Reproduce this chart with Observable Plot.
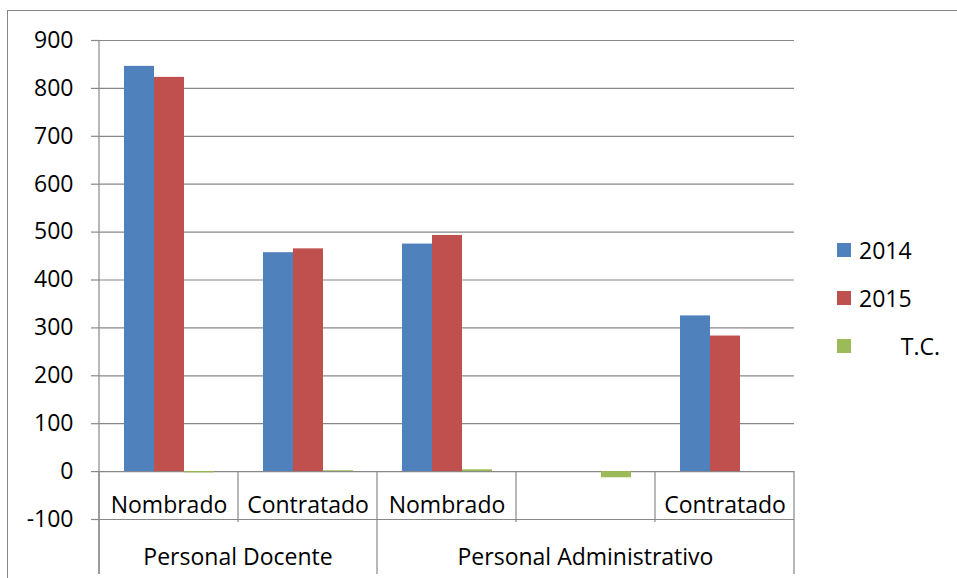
<!DOCTYPE html>
<html>
<head>
<meta charset="utf-8">
<script src="https://cdn.jsdelivr.net/npm/d3@7"></script>
<script src="https://cdn.jsdelivr.net/npm/@observablehq/plot@0.6"></script>
<style>
  body { margin: 0; background: #fff; }
  #wrap { position: relative; width: 957px; height: 578px; overflow: hidden; font-family: "Open Sans", sans-serif; }
  #border { position: absolute; left: 7px; top: 10px; width: 1200px; height: 800px; border-left: 1px solid #868686; border-top: 1px solid #868686; }
  #chart { position: absolute; left: 0; top: 0; }
  .leg-item { position: absolute; left: 837px; height: 24px; display: flex; align-items: center; font-size: 23px; color: #000; white-space: pre; }
  .leg-sw { width: 14px; height: 14px; margin-right: 8px; flex: none; }
</style>
</head>
<body>
<div id="wrap">
  <div id="border"></div>
  <div id="chart"></div>
  <div id="legend"></div>
</div>
<script>
// ---- data ----
const categoryIds = ["c0", "c1", "c2", "c3", "c4"];
const categoryLabels = ["Nombrado", "Contratado", "Nombrado", "", "Contratado"];
const groupLabels = ["Personal Docente", "Personal Administrativo"];
const groupFirst = ["c0", "c2"];
const groupLast = ["c1", "c4"];
const seriesNames = ["2014", "2015", "T.C."];
const legendLabels = ["2014", "2015", "       T.C."];
const values2014 = [846, 457, 475, null, 325];
const values2015 = [823, 465, 493, null, 283];
const valuesTC = [-2.7, 1.8, 3.8, -12.9, null];
const seriesColors = ["#4F81BD", "#C0504D", "#9BBB59"];
const yTicks = [-100, 0, 100, 200, 300, 400, 500, 600, 700, 800, 900];

// ---- table built from arrays ----
const seriesValues = [values2014, values2015, valuesTC];
const rows = [];
categoryIds.forEach((id, i) => {
  seriesNames.forEach((s, j) => {
    const v = seriesValues[j][i];
    if (v != null) rows.push({cat: id, series: s, value: v});
  });
});
const cats = categoryIds.map((id, i) => ({id, label: categoryLabels[i]}));

const gridColor = "#888888";
const font = "'Open Sans', sans-serif";
const fs = 23;

const chart = Plot.plot({
  width: 957,
  height: 578,
  marginLeft: 98,
  marginRight: 162,
  marginTop: 40,
  marginBottom: 59,
  style: {fontFamily: font, fontSize: fs + "px", color: "#000", background: "transparent", overflow: "visible"},
  fx: {domain: categoryIds, padding: 0, axis: null},
  x: {domain: seriesNames, paddingInner: 0, paddingOuter: 0.75, axis: null},
  y: {domain: [-100, 900]},
  color: {domain: seriesNames, range: seriesColors},
  marks: [
    Plot.ruleY(yTicks, {stroke: gridColor, strokeWidth: 1.2}),
    Plot.barY(rows, {fx: "cat", x: "series", y: "value", fill: "series"}),
    Plot.axisY({ticks: yTicks, tickFormat: (d) => String(d), tickSize: 8, tickPadding: 18, stroke: gridColor, strokeWidth: 1.2, fill: "#000", strokeOpacity: 1, label: null, fontSize: fs}),
    Plot.text(cats, {fx: "id", text: "label", frameAnchor: "bottom", dy: -7, fill: "#000", fontSize: fs})
  ]
});

document.getElementById("chart").appendChild(chart);

// ---- category table lines and group labels, placed with the chart's scales ----
const fx = chart.scale("fx");
const y = chart.scale("y");
const bw = fx.bandwidth;
const svg = d3.select(chart);
const g = svg.append("g").attr("stroke", gridColor).attr("stroke-width", 1.2);
const rowBottom = y.apply(-100);
const tableBottom = rowBottom + 55;

// vertical value axis line
g.append("line")
  .attr("x1", fx.apply(categoryIds[0])).attr("x2", fx.apply(categoryIds[0]))
  .attr("y1", y.apply(900)).attr("y2", tableBottom);

// separators inside the category row
categoryIds.forEach((id) => {
  if (groupFirst.includes(id)) return;
  const x = fx.apply(id);
  g.append("line").attr("x1", x).attr("x2", x)
    .attr("y1", y.apply(0)).attr("y2", rowBottom + 3);
});
// group boundaries
groupFirst.forEach((id) => {
  const x = fx.apply(id);
  g.append("line").attr("x1", x).attr("x2", x).attr("y1", y.apply(0)).attr("y2", tableBottom);
});
{
  const last = categoryIds[categoryIds.length - 1];
  const x = fx.apply(last) + bw;
  g.append("line").attr("x1", x).attr("x2", x).attr("y1", y.apply(0)).attr("y2", tableBottom);
}
// group labels
groupLabels.forEach((lab, i) => {
  const x0 = fx.apply(groupFirst[i]);
  const x1 = fx.apply(groupLast[i]) + bw;
  svg.append("text")
    .attr("x", (x0 + x1) / 2)
    .attr("y", rowBottom + 46)
    .attr("text-anchor", "middle")
    .attr("font-family", font)
    .attr("font-size", fs)
    .attr("fill", "#000")
    .text(lab);
});

// ---- legend ----
const legend = document.getElementById("legend");
const legendCenters = [249.5, 297.5, 345.5];
seriesNames.forEach((s, i) => {
  const item = document.createElement("div");
  item.className = "leg-item";
  item.style.top = (legendCenters[i] - 12) + "px";
  const sw = document.createElement("span");
  sw.className = "leg-sw";
  sw.style.background = seriesColors[i];
  const tx = document.createElement("span");
  tx.textContent = legendLabels[i];
  item.appendChild(sw);
  item.appendChild(tx);
  legend.appendChild(item);
});
</script>
</body>
</html>
